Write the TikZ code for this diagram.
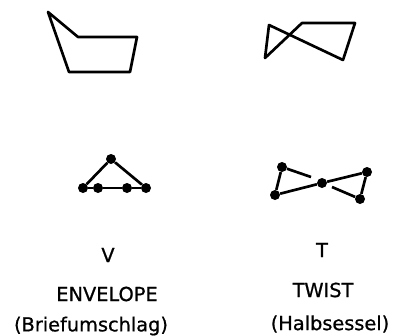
\documentclass[tikz,border=0pt]{standalone}
\usepackage{fontspec}
\setmainfont{DejaVu Sans}
\newfontfamily\capfont[FakeBold=0.8]{DejaVu Sans}
\begin{document}
\begin{tikzpicture}[x=0.75pt, y=-0.75pt, line join=round]
    \tikzset{
        ring/.style={line width=2pt},
        atom/.style={circle, fill=black, inner sep=0pt, minimum size=7.5pt},
        lbl/.style={inner sep=0pt, font=\capfont\fontsize{14.5}{16}\selectfont}
    }
    \useasboundingbox (0,0) rectangle (398,335);

    % Envelope, Umriss
    \coordinate (e1) at (48,12);
    \coordinate (e2) at (78,37);
    \coordinate (e3) at (137,37);
    \coordinate (e4) at (130,72);
    \coordinate (e5) at (69,72);
    \draw[ring] (e1)--(e2)--(e3)--(e4)--(e5)--cycle;

    % Twist, Umriss
    \coordinate (t1) at (269,25);
    \coordinate (t2) at (265,58);
    \coordinate (t3) at (302,23);
    \coordinate (t4) at (355,23);
    \coordinate (t5) at (343,60);
    \draw[ring] (t1)--(t2)--(t3)--(t4)--(t5)--cycle;

    % Envelope, Atome
    \node[atom] (A) at (111,159) {};
    \node[atom] (B) at (83,188) {};
    \node[atom] (C) at (98,188) {};
    \node[atom] (D) at (127,188) {};
    \node[atom] (E) at (146,188) {};
    \draw[ring] (A)--(B);
    \draw[ring] (A)--(E);
    \draw[ring] (B)--(C);
    \draw[ring] (C)--(D);
    \draw[ring] (D)--(E);

    % Twist, Atome
    \node[atom] (F) at (282,167) {};
    \node[atom] (G) at (275,195) {};
    \node[atom] (H) at (322,183) {};
    \node[atom] (I) at (367,172) {};
    \node[atom] (J) at (360,199) {};
    \coordinate (f') at (311,177);
    \coordinate (j') at (332,187);
    \draw[ring] (F)--(G);
    \draw[ring] (G)--(H);
    \draw[ring] (H)--(I);
    \draw[ring] (I)--(J);
    \draw[ring] (F)--(f');
    \draw[ring] (J)--(j');

    % Beschriftung
    \node[lbl] (v) at (108,255) {V};
    \node[lbl] (env) at (107,294) {ENVELOPE};
    \node[lbl] (brief) at (91,326) {(Briefumschlag)};
    \node[lbl] (t) at (322,250) {T};
    \node[lbl] (tw) at (323,290) {TWIST};
    \node[lbl] (halb) at (330,324) {(Halbsessel)};
\end{tikzpicture}
\end{document}
